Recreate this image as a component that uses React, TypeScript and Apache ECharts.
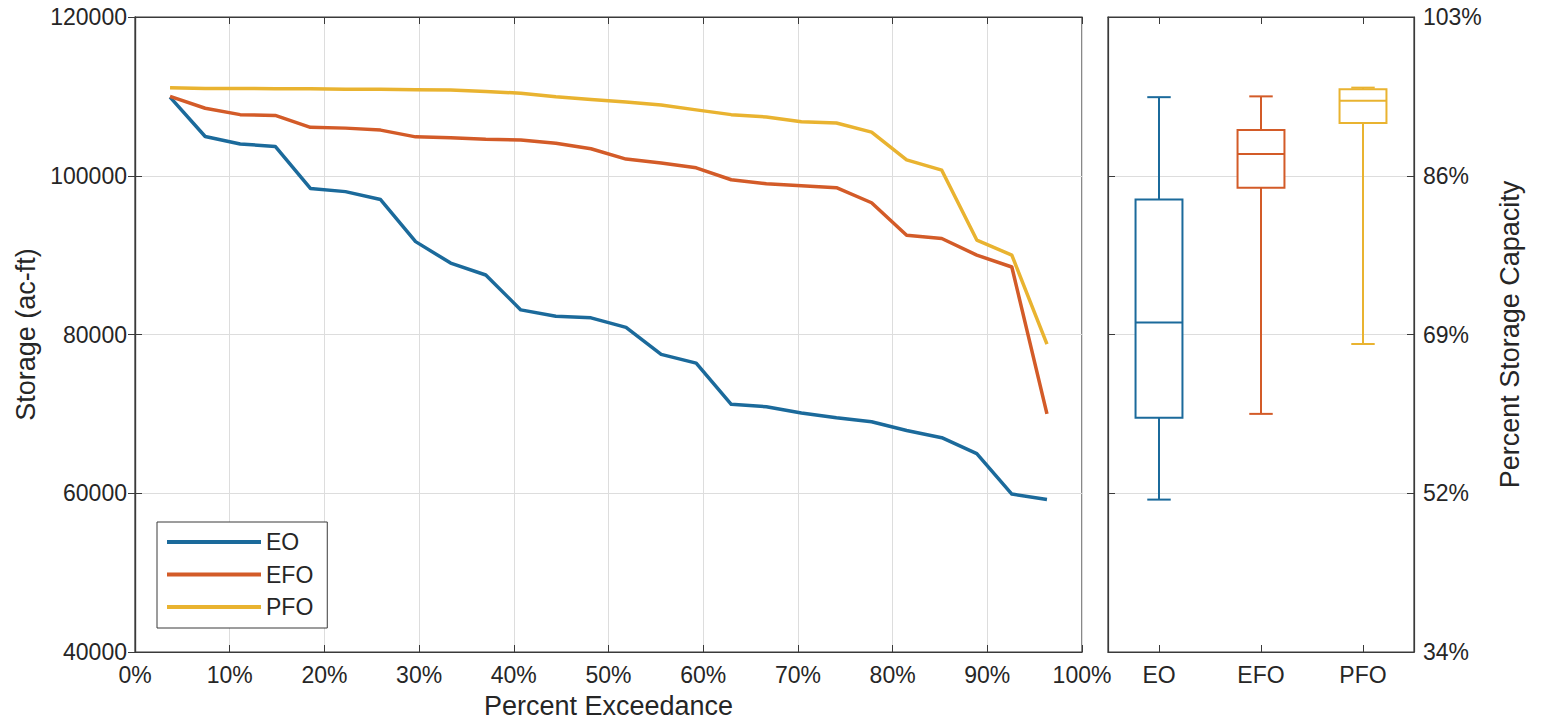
import React, { useEffect, useRef } from "react";
import * as echarts from "echarts";

// ---- data ----
const exceedance = [3.7, 7.41, 11.11, 14.81, 18.52, 22.22, 25.93, 29.63, 33.33, 37.04, 40.74, 44.44, 48.15, 51.85, 55.56, 59.26, 62.96, 66.67, 70.37, 74.07, 77.78, 81.48, 85.19, 88.89, 92.59, 96.3];
const eoValues = [109900, 104950, 104000, 103700, 98400, 98000, 97000, 91700, 89000, 87500, 83100, 82300, 82100, 80900, 77500, 76400, 71200, 70900, 70100, 69500, 69000, 67900, 67000, 65000, 59900, 59200];
const efoValues = [110000, 108500, 107700, 107600, 106100, 106000, 105750, 104900, 104800, 104600, 104500, 104100, 103400, 102100, 101600, 101000, 99500, 99000, 98750, 98500, 96600, 92500, 92100, 90000, 88500, 70000];
const pfoValues = [111100, 111000, 111000, 110950, 110950, 110900, 110900, 110850, 110800, 110600, 110400, 109950, 109600, 109300, 108900, 108300, 107700, 107400, 106800, 106650, 105500, 102000, 100700, 91900, 90000, 78800];
const seriesNames = ["EO", "EFO", "PFO"];
const seriesColors = ["#1b6a9b", "#d35b28", "#e9b330"];
const storageTicks = [40000, 60000, 80000, 100000, 120000];
const percentTickLabels = ["34%", "52%", "69%", "86%", "103%"];

// MATLAB-style percentile
function prctile(values: number[], p: number): number {
  const s = [...values].sort((a, b) => a - b);
  const n = s.length;
  let pos = (n * p) / 100 + 0.5; // 1-based
  if (pos < 1) pos = 1;
  if (pos > n) pos = n;
  const lo = Math.floor(pos);
  const hi = Math.ceil(pos);
  const f = pos - lo;
  return s[lo - 1] + (s[hi - 1] - s[lo - 1]) * f;
}
function boxStats(values: number[], idx: number) {
  return [idx, Math.min(...values), prctile(values, 25), prctile(values, 50), prctile(values, 75), Math.max(...values)];
}

const FONT = "'Liberation Sans', Arial, sans-serif";
const TEXT = "#262626";
const AXIS = "#3a3a3a";
const GRIDC = "#dddddd";

export default function App() {
  const ref = useRef<HTMLDivElement>(null);
  useEffect(() => {
    if (!ref.current) return;
    const chart = echarts.init(ref.current, undefined, { renderer: "svg" });
    const allValues = [eoValues, efoValues, pfoValues];
    const boxData = allValues.map((v, i) => boxStats(v, i));

    const lineSeries = allValues.map((vals, i) => ({
      name: seriesNames[i],
      type: "line",
      xAxisIndex: 0,
      yAxisIndex: 0,
      data: vals.map((v, k) => [exceedance[k], v]),
      showSymbol: false,
      symbol: "none",
      lineStyle: { width: 3.5, color: seriesColors[i], join: "round" },
      itemStyle: { color: seriesColors[i] },
      z: 3 + i,
    }));

    const tickStyle = { show: true, inside: true, length: 7, lineStyle: { color: AXIS, width: 1 } };
    const axisLine = { show: true, lineStyle: { color: AXIS, width: 1.2 } };
    const labelStyle = { color: TEXT, fontFamily: FONT, fontSize: 23 };
    const nameStyle = { color: TEXT, fontFamily: FONT, fontSize: 27 };

    chart.setOption({
      animation: false,
      backgroundColor: "#ffffff",
      textStyle: { fontFamily: FONT },
      grid: [
        { left: 135, top: 17, width: 947, height: 635, show: true, borderColor: AXIS, borderWidth: 1.2, backgroundColor: "transparent", containLabel: false, outerBoundsMode: "none" },
        { left: 1108, top: 17, width: 306, height: 635, show: true, borderColor: AXIS, borderWidth: 1.2, backgroundColor: "transparent", containLabel: false, outerBoundsMode: "none" },
      ],
      legend: {
        data: seriesNames,
        orient: "vertical",
        left: 157,
        top: 522,
        icon: "rect",
        itemWidth: 94,
        itemHeight: 4,
        itemGap: 8.5,
        padding: [8, 14, 9, 10],
        borderColor: AXIS,
        borderWidth: 1,
        backgroundColor: "#ffffff",
        textStyle: { color: TEXT, fontFamily: FONT, fontSize: 23, lineHeight: 24 },
      },
      xAxis: [
        {
          type: "value", gridIndex: 0, min: 0, max: 100, interval: 10,
          name: "Percent Exceedance", nameLocation: "middle", nameGap: 40,
          nameTextStyle: nameStyle,
          axisLine, axisTick: tickStyle,
          axisLabel: { ...labelStyle, margin: 11, formatter: "{value}%" },
          splitLine: { show: true, lineStyle: { color: GRIDC, width: 1 } },
        },
        {
          type: "value", gridIndex: 0, min: 0, max: 100, interval: 10, position: "top",
          axisLine, axisTick: tickStyle, axisLabel: { show: false }, splitLine: { show: false },
        },
        {
          type: "category", gridIndex: 1, data: seriesNames, boundaryGap: true,
          axisLine, axisTick: { ...tickStyle, alignWithLabel: true },
          axisLabel: { ...labelStyle, margin: 11 },
          splitLine: { show: false },
        },
        {
          type: "category", gridIndex: 1, data: seriesNames, boundaryGap: true, position: "top",
          axisLine, axisTick: { ...tickStyle, alignWithLabel: true }, axisLabel: { show: false }, splitLine: { show: false },
        },
      ],
      yAxis: [
        {
          type: "value", gridIndex: 0, min: storageTicks[0], max: storageTicks[storageTicks.length - 1], interval: 20000,
          name: "Storage (ac-ft)", nameLocation: "middle", nameGap: 94, nameRotate: 90,
          nameTextStyle: nameStyle,
          axisLine, axisTick: tickStyle,
          axisLabel: { ...labelStyle, margin: 8, formatter: (v: number) => String(v) },
          splitLine: { show: true, lineStyle: { color: GRIDC, width: 1 } },
        },
        {
          type: "value", gridIndex: 0, min: 40000, max: 120000, interval: 20000, position: "right",
          axisLine, axisTick: tickStyle, axisLabel: { show: false }, splitLine: { show: false },
        },
        {
          type: "value", gridIndex: 1, min: 40000, max: 120000, interval: 20000, position: "right",
          name: "Percent Storage Capacity", nameLocation: "middle", nameGap: 82, nameRotate: 90,
          nameTextStyle: nameStyle,
          axisLine, axisTick: tickStyle,
          axisLabel: { ...labelStyle, margin: 9, formatter: (_v: number, i: number) => percentTickLabels[i] },
          splitLine: { show: true, lineStyle: { color: GRIDC, width: 1 } },
        },
        {
          type: "value", gridIndex: 1, min: 40000, max: 120000, interval: 20000, position: "left",
          axisLine, axisTick: tickStyle, axisLabel: { show: false }, splitLine: { show: false },
        },
      ],
      series: [
        ...lineSeries,
        {
          type: "custom",
          name: "box",
          xAxisIndex: 2,
          yAxisIndex: 2,
          data: boxData,
          encode: { x: 0, y: [1, 2, 3, 4, 5] },
          renderItem: (_params: any, api: any) => {
            const idx = api.value(0);
            const color = seriesColors[idx];
            const band = api.size([1, 0])[0];
            const half = band * 0.23;
            const capHalf = half / 2;
            const pMin = api.coord([idx, api.value(1)]);
            const pQ1 = api.coord([idx, api.value(2)]);
            const pMed = api.coord([idx, api.value(3)]);
            const pQ3 = api.coord([idx, api.value(4)]);
            const pMax = api.coord([idx, api.value(5)]);
            const cx = pMed[0];
            const st = { stroke: color, lineWidth: 2, fill: "none" };
            return {
              type: "group",
              children: [
                { type: "line", shape: { x1: cx, y1: pQ3[1], x2: cx, y2: pMax[1] }, style: st },
                { type: "line", shape: { x1: cx, y1: pQ1[1], x2: cx, y2: pMin[1] }, style: st },
                { type: "line", shape: { x1: cx - capHalf, y1: pMax[1], x2: cx + capHalf, y2: pMax[1] }, style: st },
                { type: "line", shape: { x1: cx - capHalf, y1: pMin[1], x2: cx + capHalf, y2: pMin[1] }, style: st },
                { type: "rect", shape: { x: cx - half, y: pQ3[1], width: 2 * half, height: pQ1[1] - pQ3[1] }, style: { ...st, fill: "#ffffff" } },
                { type: "line", shape: { x1: cx - half, y1: pMed[1], x2: cx + half, y2: pMed[1] }, style: st },
              ],
            };
          },
          z: 5,
        },
      ],
    });
    return () => chart.dispose();
  }, []);
  return <div ref={ref} style={{ position: "fixed", left: 0, top: 0, width: 1549, height: 723 }} />;
}
